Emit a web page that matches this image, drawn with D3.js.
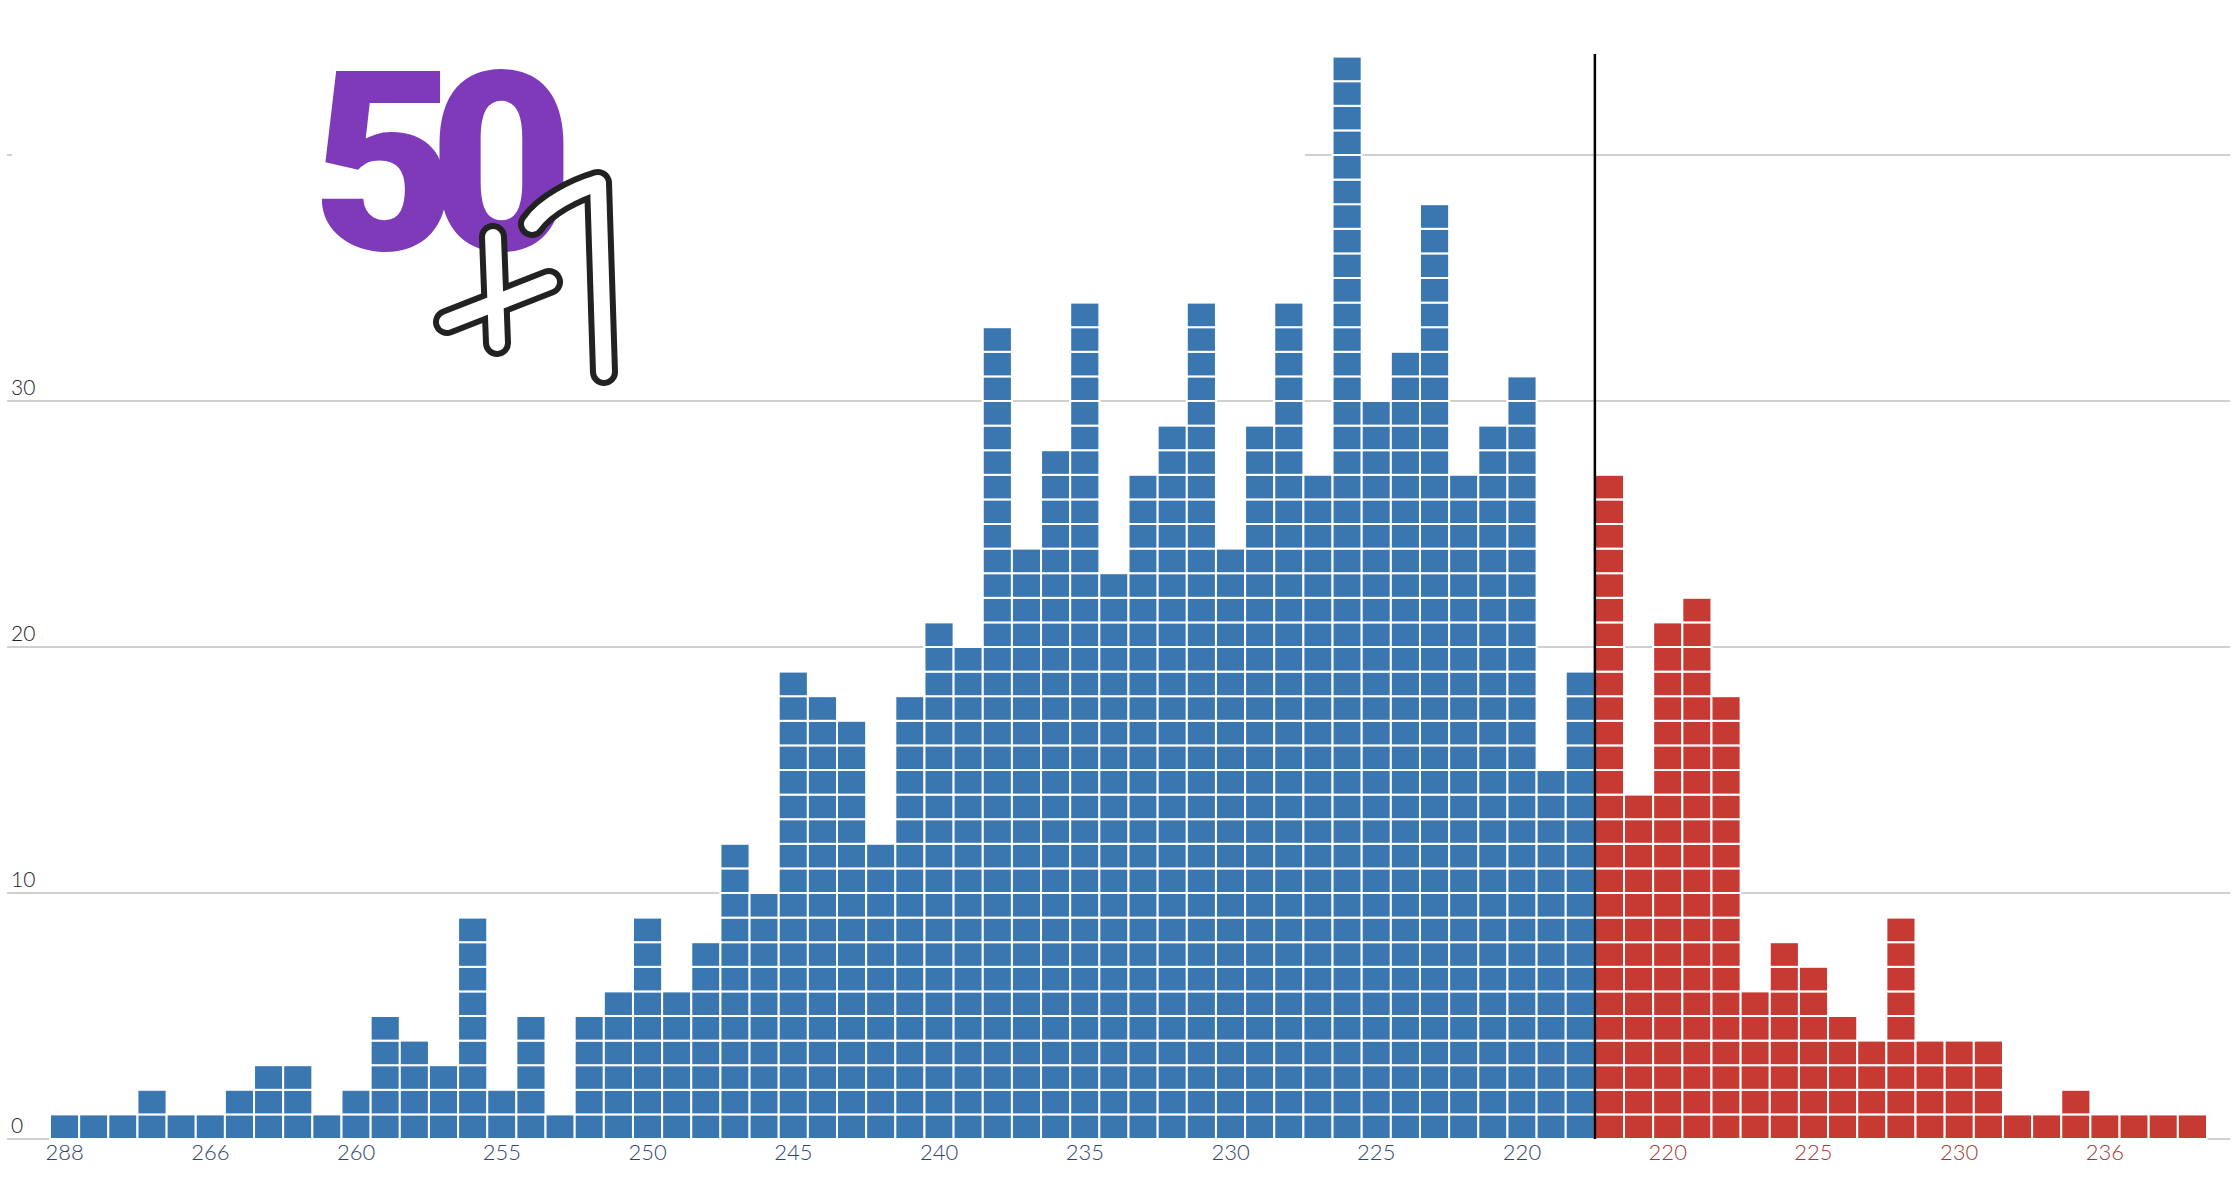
<!DOCTYPE html>
<html><head><meta charset="utf-8">
<script src="https://cdn.jsdelivr.net/npm/d3@7"></script>
<style>body{margin:0;background:#fff}svg{display:block}</style>
</head><body>
<script>
const demCounts=[1,1,1,2,1,1,2,3,3,1,2,5,4,3,9,2,5,1,5,6,9,6,8,12,10,19,18,17,12,18,21,20,33,24,28,34,23,27,29,34,24,29,34,27,44,30,32,38,27,29,31,15,19];
const repCounts=[27,14,21,22,18,6,8,7,5,4,9,4,4,4,1,1,2,1,1,1,1];
const demTicks=[[0,"288"],[5,"266"],[10,"260"],[15,"255"],[20,"250"],[25,"245"],[30,"240"],[35,"235"],[40,"230"],[45,"225"],[50,"220"]];
const repTicks=[[2,"220"],[7,"225"],[12,"230"],[17,"236"]];
const yTicks=[0,10,20,30,40];

const W=2236,H=1182;
const svg=d3.select("body").append("svg").attr("width",W).attr("height",H);
const n=demCounts.length+repCounts.length;
const x=d3.scaleBand().domain(d3.range(n)).range([50,2207]).padding(0);
const y=d3.scaleLinear().domain([0,44]).range([1139,1139-44*24.6]);

// gridlines
svg.append("g").selectAll("line").data(yTicks).join("line")
  .attr("x1",7).attr("x2",2230).attr("y1",d=>y(d)).attr("y2",d=>y(d))
  .attr("stroke","#d0d0d0").attr("stroke-width",2);
svg.append("g").selectAll("text").data(yTicks.filter(d=>d<40)).join("text")
  .attr("x",11).attr("y",d=>y(d)-6).text(d=>d)
  .attr("font-family","Lato, sans-serif").attr("font-weight",300).attr("font-size",21).attr("fill","#222");
// white box hiding top gridline behind logo region
svg.append("rect").attr("x",12).attr("y",y(40)-6).attr("width",1293).attr("height",12).attr("fill","#fff");

const cells=[];
demCounts.forEach((c,i)=>{for(let k=0;k<c;k++)cells.push({i,k,col:"#3a77b0"});});
repCounts.forEach((c,j)=>{for(let k=0;k<c;k++)cells.push({i:demCounts.length+j,k,col:"#c63a33"});});
svg.append("g").selectAll("rect").data(cells).join("rect")
  .attr("x",d=>x(d.i)).attr("y",d=>y(d.k+1)).attr("width",x.bandwidth()).attr("height",y(0)-y(1))
  .attr("fill",d=>d.col).attr("stroke","#fff").attr("stroke-width",2);

svg.append("line").attr("x1",x(demCounts.length)).attr("x2",x(demCounts.length))
  .attr("y1",54).attr("y2",y(0)).attr("stroke","#000").attr("stroke-width",2.5);

const tf=(g,data,off,color)=>g.selectAll("text").data(data).join("text")
  .attr("x",d=>x(d[0]+off)+x.bandwidth()/2).attr("y",1160).attr("text-anchor","middle")
  .text(d=>d[1]).attr("font-family","Lato, sans-serif").attr("font-weight",300)
  .attr("font-size",22).attr("fill",color);
tf(svg.append("g"),demTicks,0,"#2c4670");
tf(svg.append("g"),repTicks,demCounts.length,"#a53a35");

// logo
const logo=svg.append("g");
logo.append("text").attr("x",312).attr("y",250).text("50")
  .attr("font-family","Roboto, sans-serif").attr("font-weight",900).attr("font-size",250)
  .attr("letter-spacing",-28).attr("fill","#7e3ab9").attr("stroke","#fff").attr("stroke-width",4)
  .attr("paint-order","stroke");
const plus1=["M493,237 L497,343","M447,322 L549,282","M532,224 C545,205 575,190 598,183 L604,372"];
plus1.forEach(p=>logo.append("path").attr("d",p).attr("fill","none").attr("stroke","#222")
  .attr("stroke-width",28).attr("stroke-linecap","round").attr("stroke-linejoin","round"));
plus1.forEach(p=>logo.append("path").attr("d",p).attr("fill","none").attr("stroke","#fff")
  .attr("stroke-width",16).attr("stroke-linecap","round").attr("stroke-linejoin","round"));
</script>
</body></html>
